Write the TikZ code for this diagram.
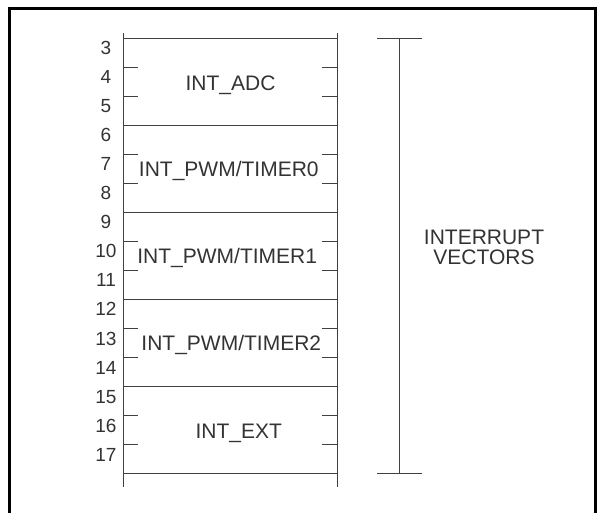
\documentclass[tikz,border=0pt]{standalone}
\usepackage{fontspec}
\setmainfont{Liberation Sans}
\usetikzlibrary{positioning}
\tikzset{memline/.style={draw=black!75, line width=0.9pt},
  addr/.style={anchor=base, inner sep=0pt, text=black!80, font=\fontsize{19}{22}\selectfont},
  vecname/.style={anchor=base, inner sep=0pt, text=black!80, font=\fontsize{21}{20}\selectfont}}

\begin{document}
\begin{tikzpicture}[x=1pt,y=-1pt]
   \useasboundingbox (0,0) rectangle (600,513);
   \draw[line width=2.5pt] (9.5,513) -- (9.5,8.3) -- (595.5,8.3) -- (595.5,513);
   % rails of the vector table
   \coordinate (railLtop) at (123.3,33.3);
   \coordinate (railLbot) at (123.3,487.3);
   \coordinate (railRtop) at (337.3,33.3);
   \coordinate (railRbot) at (337.3,487.3);
   \draw[memline] (railLtop) -- (railLbot);
   \draw[memline] (railRtop) -- (railRbot);
   \foreach \k in {0,3,...,15} {
    \draw[memline] (123.3,{38.3+29*\k}) -- (337.3,{38.3+29*\k});
   }
   \foreach \k in {1,2,4,5,7,8,10,11,13,14} {
    \draw[memline] (123.3,{38.3+29*\k}) -- +(15,0);
    \draw[memline] (337.3,{38.3+29*\k}) -- +(-15,0);
   }
   % addresses
   \foreach \n [count=\i from 0] in {3,...,17} {
    \node[addr] (addr\n) at (106,{55+29*\i}) {\n};
   }
   % vector names
   \node[vecname] (intadc) at (230.5,91) {INT\_ADC};
   \node[vecname] (inttmr0) at (228.8,177) {INT\_PWM/TIMER0};
   \node[vecname] (inttmr1) at (227.2,263.5) {INT\_PWM/TIMER1};
   \node[vecname] (inttmr2) at (231.3,350.5) {INT\_PWM/TIMER2};
   \node[vecname] (intext) at (238.7,438) {INT\_EXT};
   % bracket
   \coordinate (brtop) at (399.5,38.3);
   \coordinate (brbot) at (399.5,473.3);
   \draw[memline] (brtop) -- (brbot);
   \draw[memline] (brtop) +(-22.5,0) -- +(22.5,0);
   \draw[memline] (brbot) +(-22.5,0) -- +(22.5,0);
   \node[vecname, align=center] (ivec) at (484,264.3) {INTERRUPT\\VECTORS};
\end{tikzpicture}
\end{document}
